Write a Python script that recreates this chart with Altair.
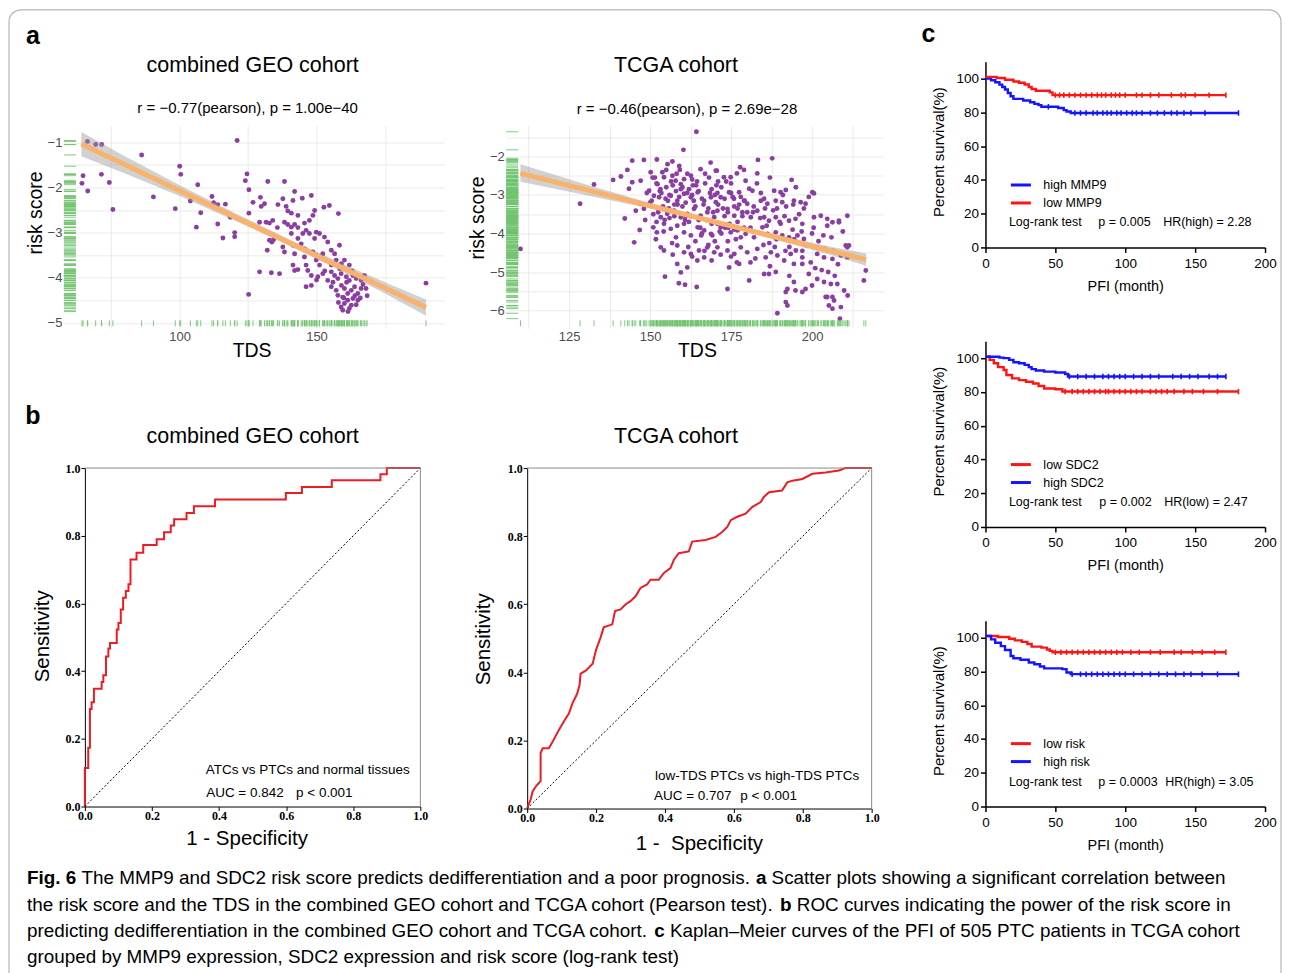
import altair as alt
import pandas as pd

SANS = "Liberation Sans, Arial, Helvetica, sans-serif"
SERIF = "Liberation Serif, Times New Roman, serif"

PURPLE = "#8a3ea2"
GREEN = "#72c46f"
ORANGE = "#f9b26c"
ROC_RED = "#ec1c24"
KM_RED = "#ff1414"
KM_BLUE = "#1414ff"

# ---------------- data: combined GEO scatter ----------------
geo_tds = [66.3, 69.3, 71.5, 64.7, 64.3, 66.4, 71.4, 74.3, 75.6, 86.1,
           90.4, 98.4, 100.0, 100.4, 103.9, 106.6, 107.7, 106.1, 111.8, 112.4,
           113.9, 116.7, 113.9, 115.8, 118.5, 120.1, 120.1, 121.0, 124.0, 124.6,
           125.3, 125.3, 125.2, 132.2, 138.3, 129.5, 131.0, 129.8, 126.8, 135.9,
           137.7, 138.9, 141.4, 142.0, 144.8, 148.1, 140.8, 143.2, 139.5, 149.3,
           148.7, 147.4, 152.7, 154.7, 158.0, 129.2, 131.6, 132.8, 134.0, 135.7,
           138.3, 139.5, 140.8, 142.0, 143.2, 145.6, 146.2, 145.0, 147.4, 149.9,
           151.1, 140.8, 143.2, 149.3, 152.9, 154.1, 144.4, 133.7, 132.8, 134.3,
           137.7, 138.3, 141.4, 142.0, 132.0, 145.6, 148.7, 149.9, 152.3, 155.4,
           156.6, 158.4, 141.4, 145.6, 146.2, 149.9, 151.1, 153.5, 155.4, 157.2,
           159.1, 160.2, 162.0, 129.2, 133.5, 136.5, 142.0, 143.2, 146.8, 148.1,
           150.5, 152.3, 155.4, 156.6, 157.8, 159.0, 160.9, 162.0, 163.3, 164.5,
           166.3, 146.2, 148.1, 154.1, 155.4, 157.2, 159.1, 160.2, 161.4, 162.7,
           163.9, 165.1, 166.3, 157.8, 159.6, 161.4, 163.3, 160.2, 162.7, 159.0,
           162.0, 165.1, 159.6, 168.1, 190.0, 156.0, 158.5, 161.0, 163.0, 164.0,
           166.0, 167.0, 160.0, 158.0, 164.5, 161.5, 167.5, 153.0, 150.0, 168.5]
geo_risk = [-0.98, -1.05, -1.05, -1.74, -1.91, -2.08, -1.71, -1.89, -2.49, -1.28,
            -2.21, -2.47, -1.53, -1.71, -2.30, -1.94, -2.56, -2.88, -2.20, -2.34,
            -2.38, -2.37, -2.81, -3.12, -2.66, -3.00, -3.09, -0.96, -1.85, -1.70,
            -2.05, -2.57, -4.37, -1.87, -1.87, -2.22, -2.36, -2.42, -2.33, -2.38,
            -2.25, -2.42, -2.29, -2.09, -2.24, -2.18, -2.57, -2.62, -2.52, -2.51,
            -2.62, -2.73, -2.44, -2.40, -2.58, -2.77, -2.77, -2.79, -2.73, -2.89,
            -2.77, -2.82, -2.88, -2.82, -2.89, -2.79, -2.95, -3.02, -3.02, -2.99,
            -3.02, -3.02, -3.13, -3.13, -3.10, -3.21, -3.25, -3.21, -3.17, -3.16,
            -3.32, -3.43, -3.28, -3.47, -3.39, -3.36, -3.43, -3.50, -3.47, -3.39,
            -3.47, -3.28, -3.72, -3.54, -3.72, -3.61, -3.72, -3.61, -3.72, -3.61,
            -3.69, -3.61, -3.72, -3.87, -3.89, -3.91, -3.84, -3.82, -3.84, -3.95,
            -3.98, -3.91, -3.87, -3.95, -4.02, -3.91, -3.98, -4.06, -3.95, -4.02,
            -4.06, -4.20, -4.17, -4.06, -4.20, -4.28, -4.17, -4.24, -4.35, -4.28,
            -4.20, -4.35, -4.24, -4.39, -4.43, -4.50, -4.46, -4.57, -4.61, -4.65,
            -4.68, -4.50, -4.72, -4.24, -4.12, -4.10, -3.80, -4.10, -3.85, -4.40,
            -4.45, -4.15, -4.45, -4.55, -4.60, -4.75, -3.95, -3.85, -4.05, -4.40]
geo_fit_tds = [64.1, 190.0]
geo_fit_risk = [-1.04, -4.66]
geo_ci_tds = [64.1, 80.0, 100.0, 120.0, 140.0, 160.0, 175.0, 190.0]
geo_ci_low = [-1.31, -1.69, -2.19, -2.73, -3.29, -3.88, -4.35, -4.84]
geo_ci_high = [-0.77, -1.31, -1.95, -2.56, -3.15, -3.70, -4.10, -4.48]

# ---------------- data: TCGA scatter ----------------
tcga_tds = [164.3, 160.3, 128.4, 132.7, 138.6, 141.0, 143.0, 142.2, 144.5, 148.1,
            152.1, 155.4, 156.9, 144.5, 147.1, 143.5, 145.6, 148.1, 147.1, 146.8,
            145.1, 150.2, 152.3, 149.7, 151.2, 153.8, 154.3, 156.9, 157.9, 159.5,
            160.5, 162.6, 165.6, 168.7, 170.3, 152.8, 154.8, 156.4, 158.4, 160.5,
            162.6, 164.7, 166.7, 168.8, 170.3, 153.3, 155.3, 157.4, 159.5, 161.5,
            163.6, 165.6, 167.7, 169.8, 154.3, 156.4, 158.4, 160.5, 162.6, 164.7,
            166.7, 168.8, 170.8, 153.3, 154.3, 158.4, 160.5, 162.6, 165.1, 167.7,
            169.8, 158.4, 159.5, 161.5, 164.6, 166.7, 154.6, 158.9, 160.8, 164.4,
            151.0, 152.1, 153.3, 187.7, 183.3, 183.1, 177.8, 176.8, 174.9, 172.8,
            170.6, 179.5, 193.7, 180.6, 181.6, 185.2, 188.3, 190.3, 191.9, 200.1,
            200.6, 171.8, 174.4, 175.9, 177.5, 179.0, 180.0, 184.2, 186.2, 188.8,
            190.8, 194.4, 196.5, 198.0, 170.8, 173.9, 176.0, 178.5, 181.1, 183.1,
            185.2, 186.7, 188.8, 190.3, 192.9, 194.9, 197.0, 200.6, 202.7, 204.7,
            206.3, 208.3, 210.9, 171.8, 174.9, 177.0, 179.5, 182.1, 184.7, 186.2,
            188.8, 190.8, 192.9, 195.5, 197.5, 170.8, 173.9, 176.0, 178.0, 180.0,
            183.1, 185.7, 187.3, 189.3, 191.4, 193.4, 195.0, 197.0, 199.6, 201.6,
            203.7, 206.3, 208.9, 210.9, 174.4, 177.5, 180.6, 185.2, 186.7, 188.8,
            194.4, 197.0, 173.9, 191.9, 192.4, 194.4, 194.9, 197.0, 198.0, 200.0,
            201.6, 203.7, 205.8, 207.8, 191.9, 192.4, 204.7, 205.2, 206.8, 206.3,
            209.9, 211.0, 189.3, 208.6, 216.6, 216.0, 204.7, 208.3, 210.4, 211.4,
            210.9, 208.9, 204.2, 206.3, 110.0, 152.0, 153.0, 155.0, 156.0, 157.0,
            158.0, 159.0, 160.0, 161.0, 162.0, 163.0, 164.0, 165.0, 166.0, 167.0,
            168.0, 169.0, 170.0, 171.0, 172.0, 173.0, 174.0, 175.0, 176.0, 177.0,
            178.0, 179.0, 180.0, 150.0, 151.0, 152.0, 154.0, 156.0, 158.0, 160.0,
            162.0, 164.0, 166.0, 168.0, 170.0, 172.0, 174.0, 176.0, 178.0, 180.0,
            182.0, 184.0, 186.0, 188.0, 190.0, 192.0, 194.0, 196.0, 198.0, 200.0,
            202.0, 204.0, 206.0, 208.0, 155.0, 159.0, 163.0, 167.0, 171.0, 175.0,
            179.0, 183.0, 187.0, 191.0, 195.0, 199.0, 161.0, 165.0, 169.0, 173.0,
            177.0, 181.0, 185.0, 189.0, 193.0, 197.0, 201.0, 205.0, 157.0, 163.0,
            169.0, 175.0, 181.0, 187.0, 193.0, 199.0, 203.0, 207.0, 157.5, 161.5,
            149.0, 150.5, 151.5, 152.5, 153.5, 154.5, 155.5, 156.5, 157.5, 158.5,
            159.5, 160.5, 161.5, 162.5, 163.5, 164.5, 165.5, 166.5, 167.5, 168.5,
            169.5, 170.5, 171.5, 172.5, 173.5, 174.5, 175.5, 176.5, 177.5, 178.5,
            148.5, 151.8, 154.2, 156.8, 159.2, 161.8, 164.2, 166.8, 169.2, 171.8,
            174.2, 176.8, 179.2, 181.8, 184.2, 186.8, 189.2, 191.8, 194.2, 196.8,
            182.5, 185.5, 188.5, 191.5, 194.5, 197.5, 200.5, 203.5, 206.5, 209.5,
            150.8, 153.2, 155.8, 158.2, 160.8, 163.2, 165.8, 168.2, 170.8, 173.2]
tcga_risk = [-1.36, -1.83, -3.23, -2.73, -2.61, -2.52, -2.35, -3.61, -2.11, -2.09,
             -2.08, -2.20, -2.13, -2.67, -2.63, -2.84, -3.41, -3.36, -3.23, -3.91,
             -4.23, -2.41, -2.72, -2.89, -3.02, -2.41, -2.54, -2.50, -2.63, -2.72,
             -2.59, -2.50, -2.33, -2.16, -2.37, -3.06, -3.10, -3.02, -3.15, -2.97,
             -3.06, -2.93, -3.15, -3.06, -3.19, -3.36, -3.49, -3.41, -3.58, -3.49,
             -3.36, -3.54, -3.45, -3.58, -3.75, -3.88, -3.80, -3.97, -4.05, -3.84,
             -3.92, -4.01, -3.75, -4.36, -4.44, -4.31, -4.49, -4.53, -4.44, -4.36,
             -4.49, -4.79, -5.01, -4.88, -4.70, -4.62, -5.12, -5.29, -5.33, -5.39,
             -3.84, -3.97, -3.58, -2.05, -2.09, -2.44, -2.28, -2.44, -2.54, -2.54,
             -2.37, -2.63, -2.61, -2.84, -2.89, -3.10, -2.89, -2.93, -2.87, -2.93,
             -2.96, -3.06, -2.93, -3.10, -2.93, -3.15, -3.23, -3.15, -3.23, -3.15,
             -3.19, -3.15, -3.19, -3.23, -3.41, -3.36, -3.54, -3.45, -3.58, -3.41,
             -3.58, -3.67, -3.58, -3.75, -3.67, -3.62, -3.75, -3.58, -3.54, -3.62,
             -3.71, -3.67, -3.54, -3.84, -3.97, -3.92, -4.01, -4.10, -3.84, -4.01,
             -3.97, -4.05, -4.10, -4.05, -4.14, -4.36, -4.44, -4.53, -4.36, -4.49,
             -4.40, -4.62, -4.49, -4.57, -4.70, -4.53, -4.44, -4.62, -4.75, -4.53,
             -4.62, -4.66, -4.57, -4.36, -4.88, -4.79, -5.22, -5.05, -5.05, -5.00,
             -4.79, -4.79, -5.44, -5.52, -5.44, -5.26, -5.48, -5.52, -5.44, -5.35,
             -5.18, -5.26, -5.31, -5.31, -5.78, -5.87, -5.65, -5.87, -5.74, -5.95,
             -5.48, -5.61, -6.07, -6.21, -4.96, -5.22, -3.80, -3.71, -4.31, -4.31,
             -4.62, -5.91, -5.65, -5.65, -4.40, -2.70, -2.90, -2.80, -3.00, -2.75,
             -2.90, -3.05, -2.80, -3.20, -2.85, -3.00, -3.30, -2.90, -3.10, -2.70,
             -3.35, -2.85, -3.00, -3.25, -2.80, -3.10, -3.45, -2.70, -3.30, -3.70,
             -3.05, -3.85, -3.45, -3.20, -3.50, -3.70, -3.30, -3.60, -4.10, -3.30,
             -3.70, -4.20, -4.00, -4.30, -4.20, -4.00, -4.20, -3.90, -4.10, -3.90,
             -3.30, -3.60, -3.80, -3.40, -3.70, -3.30, -3.90, -3.50, -4.30, -4.00,
             -4.20, -4.40, -4.10, -4.80, -2.35, -2.25, -2.60, -2.45, -2.65, -2.95,
             -2.35, -2.70, -2.55, -3.00, -2.80, -3.05, -3.55, -3.65, -3.75, -3.55,
             -3.35, -3.85, -4.30, -4.15, -4.35, -4.45, -4.90, -5.00, -4.55, -4.60,
             -4.70, -4.60, -4.75, -4.85, -5.10, -5.05, -4.95, -5.10, -3.25, -2.95,
             -2.95, -3.15, -2.55, -3.45, -2.95, -3.65, -3.15, -2.65, -3.55, -3.25,
             -2.85, -3.75, -2.45, -3.55, -3.15, -2.65, -3.85, -3.25, -3.65, -2.95,
             -3.45, -2.75, -3.95, -3.35, -2.65, -3.75, -3.05, -4.15, -3.25, -3.55,
             -3.65, -4.15, -3.95, -4.25, -2.35, -4.35, -2.75, -4.45, -4.05, -4.55,
             -3.85, -4.75, -3.15, -3.45, -2.95, -4.25, -3.35, -4.45, -3.25, -3.95,
             -4.65, -3.35, -4.35, -3.55, -4.15, -3.35, -3.85, -4.05, -4.45, -3.95,
             -2.55, -2.85, -3.35, -2.45, -3.65, -2.75, -4.05, -2.55, -2.95, -3.85]
tcga_fit_tds = [110.0, 216.7]
tcga_fit_risk = [-2.44, -4.68]
tcga_ci_tds = [110.0, 130.0, 150.0, 170.0, 190.0, 205.0, 216.7]
tcga_ci_low = [-2.66, -3.00, -3.35, -3.75, -4.19, -4.54, -4.84]
tcga_ci_high = [-2.20, -2.72, -3.21, -3.65, -4.05, -4.33, -4.52]

# ---------------- data: ROC curves ----------------
geo_roc_fpr = [0.0, 0.0, 0.010, 0.015, 0.020, 0.027, 0.050, 0.055, 0.063, 0.070,
               0.075, 0.095, 0.100, 0.107, 0.114, 0.122, 0.130, 0.136, 0.154, 0.174,
               0.214, 0.236, 0.256, 0.266, 0.303, 0.325, 0.388, 0.599, 0.647, 0.736,
               0.881, 0.900, 1.0]
geo_roc_tpr = [0.0, 0.114, 0.174, 0.288, 0.308, 0.348, 0.368, 0.388, 0.443, 0.467,
               0.483, 0.523, 0.542, 0.582, 0.617, 0.637, 0.657, 0.730, 0.750, 0.773,
               0.790, 0.810, 0.830, 0.849, 0.867, 0.887, 0.907, 0.926, 0.944, 0.964,
               0.982, 1.0, 1.0]
tcga_roc_fpr = [0.0, 0.010, 0.016, 0.026, 0.039, 0.039, 0.045, 0.063, 0.077, 0.092,
                0.109, 0.121, 0.131, 0.145, 0.152, 0.155, 0.170, 0.190, 0.200, 0.213,
                0.222, 0.247, 0.255, 0.271, 0.286, 0.300, 0.315, 0.329, 0.348, 0.358,
                0.382, 0.397, 0.416, 0.426, 0.440, 0.469, 0.479, 0.518, 0.547, 0.566,
                0.581, 0.591, 0.610, 0.634, 0.654, 0.678, 0.687, 0.702, 0.740, 0.755,
                0.770, 0.799, 0.828, 0.866, 0.905, 0.924, 1.0]
tcga_roc_tpr = [0.0, 0.027, 0.051, 0.066, 0.081, 0.163, 0.177, 0.177, 0.202, 0.231,
                0.260, 0.279, 0.308, 0.337, 0.362, 0.396, 0.405, 0.425, 0.466, 0.502,
                0.532, 0.541, 0.580, 0.585, 0.600, 0.609, 0.624, 0.648, 0.658, 0.672,
                0.672, 0.692, 0.706, 0.731, 0.750, 0.755, 0.784, 0.789, 0.798, 0.812,
                0.827, 0.847, 0.857, 0.866, 0.886, 0.900, 0.915, 0.929, 0.934, 0.958,
                0.963, 0.968, 0.983, 0.987, 0.993, 1.0, 1.0]
chance_line = [0.0, 1.0]

# ---------------- data: Kaplan-Meier (PFI) ----------------
mmp9_high_t = [0, 4, 7, 10, 12, 14, 16, 18, 20, 27, 32, 35, 38, 40, 52, 56, 58, 61, 181]
mmp9_high_s = [100, 99, 97.8, 96.4, 95, 93.5, 91.5, 89.5, 88, 87, 86, 85, 84.3, 83.3, 82.6, 81.3, 80.5, 79.6, 79.6]
mmp9_low_t = [0, 8, 14, 20, 24, 28, 31, 33, 36, 46, 48, 172]
mmp9_low_s = [101, 100.3, 99.3, 98.3, 97.5, 96.5, 95, 93.8, 92.8, 91.8, 90.2, 90.2]
mmp9_high_ct = [45, 64, 68, 72, 77, 80, 84, 87, 90, 94, 97, 101, 105, 108, 112, 118, 123, 128, 133, 137, 142, 147, 157, 181]
mmp9_high_cs = [83.3, 79.6, 79.6, 79.6, 79.6, 79.6, 79.6, 79.6, 79.6, 79.6, 79.6, 79.6, 79.6, 79.6, 79.6, 79.6, 79.6, 79.6, 79.6, 79.6, 79.6, 79.6, 79.6, 79.6]
mmp9_low_ct = [50, 53, 56, 60, 64, 68, 72, 76, 80, 83, 86, 90, 93, 96, 100, 108, 112, 118, 124, 133, 140, 143, 150, 160, 172]
mmp9_low_cs = [90.2, 90.2, 90.2, 90.2, 90.2, 90.2, 90.2, 90.2, 90.2, 90.2, 90.2, 90.2, 90.2, 90.2, 90.2, 90.2, 90.2, 90.2, 90.2, 90.2, 90.2, 90.2, 90.2, 90.2, 90.2]

sdc2_low_t = [0, 3, 6, 9, 13, 15, 19, 24, 29, 34, 38, 42, 50, 55, 181]
sdc2_low_s = [101, 99, 97, 94.7, 93, 90, 88, 87, 86, 85, 83.5, 82, 81.6, 80.2, 80.2]
sdc2_high_t = [0, 10, 13, 17, 20, 24, 28, 31, 33, 36, 42, 50, 57, 59, 172]
sdc2_high_s = [100.8, 100.3, 100, 99, 97.6, 97, 96, 94.7, 93.5, 92.7, 92, 91.5, 90.6, 89.1, 89.1]
sdc2_low_ct = [57, 62, 66, 70, 74, 78, 82, 86, 88, 92, 96, 100, 104, 108, 112, 118, 122, 126, 130, 135, 142, 148, 156, 166, 181]
sdc2_low_cs = [80.2, 80.2, 80.2, 80.2, 80.2, 80.2, 80.2, 80.2, 80.2, 80.2, 80.2, 80.2, 80.2, 80.2, 80.2, 80.2, 80.2, 80.2, 80.2, 80.2, 80.2, 80.2, 80.2, 80.2, 80.2]
sdc2_high_ct = [60, 66, 72, 78, 84, 88, 92, 96, 100, 106, 112, 118, 124, 134, 140, 146, 152, 160, 166, 172]
sdc2_high_cs = [89.1, 89.1, 89.1, 89.1, 89.1, 89.1, 89.1, 89.1, 89.1, 89.1, 89.1, 89.1, 89.1, 89.1, 89.1, 89.1, 89.1, 89.1, 89.1, 89.1]

risk_low_t = [0, 9, 17, 21, 26, 30, 33, 40, 44, 46, 48, 172]
risk_low_s = [101, 100.4, 99.4, 98.4, 97.5, 96.3, 94.7, 94.1, 93, 92.2, 91.4, 91.4]
risk_high_t = [0, 4, 7, 11, 14, 18, 20, 25, 31, 35, 39, 42, 55, 58, 61, 181]
risk_high_s = [101, 99, 97, 95, 92.7, 89.2, 87.8, 86.9, 85.3, 84.3, 82.9, 81.8, 81.4, 79.4, 78.4, 78.4]
risk_low_ct = [50, 54, 58, 62, 66, 70, 74, 78, 82, 86, 90, 94, 98, 104, 110, 118, 125, 135, 140, 148, 155, 164, 172]
risk_low_cs = [91.4, 91.4, 91.4, 91.4, 91.4, 91.4, 91.4, 91.4, 91.4, 91.4, 91.4, 91.4, 91.4, 91.4, 91.4, 91.4, 91.4, 91.4, 91.4, 91.4, 91.4, 91.4, 91.4]
risk_high_ct = [62, 68, 72, 76, 80, 84, 88, 92, 96, 100, 106, 112, 118, 124, 130, 136, 142, 147, 155, 166, 181]
risk_high_cs = [78.4, 78.4, 78.4, 78.4, 78.4, 78.4, 78.4, 78.4, 78.4, 78.4, 78.4, 78.4, 78.4, 78.4, 78.4, 78.4, 78.4, 78.4, 78.4, 78.4, 78.4]

# tick values / labels
geo_x_grid = [75, 100, 125, 150, 175]
geo_y_grid = [-5, -4.5, -4, -3.5, -3, -2.5, -2, -1.5, -1]
tcga_x_grid = [112.5, 125, 137.5, 150, 162.5, 175, 187.5, 200, 212.5]
tcga_y_grid = [-6, -5.5, -5, -4.5, -4, -3.5, -3, -2.5, -2, -1.5]
roc_ticks = [0, 0.2, 0.4, 0.6, 0.8, 1.0]
km_x_ticks = [0, 50, 100, 150, 200]
km_y_ticks = [0, 20, 40, 60, 80, 100]

# ---------------- layout (page pixels) ----------------
SC1_X, SC1_Y, SC1_W, SC1_H = 64, 125, 381, 203
SC2_W, SC2_H = 378, 203
ROC1_W, ROC1_H = 336, 339
ROC2_W, ROC2_H = 345, 341
KM_W, KM_H = 280, 186


def note(text, x, y, size, weight="normal", align="left", font=SANS, color="black"):
    return alt.Chart(pd.DataFrame({"t": [text]})).mark_text(
        align=align, baseline="middle", fontSize=size, fontWeight=weight,
        font=font, color=color
    ).encode(text="t:N", x=alt.value(x), y=alt.value(y))


def scatter_chart(tds, risk, fit_x, fit_y, ci_x, ci_lo, ci_hi, xdom, ydom,
                  xgrid, xmajor, ygrid, w, h, ytx, yty, xtx, extra):
    pts = pd.DataFrame({"TDS": tds[:len(risk)], "risk": risk[:len(tds)]})
    xs = alt.Scale(domain=xdom, nice=False, zero=False)
    ys = alt.Scale(domain=ydom, nice=False, zero=False)
    common = dict(grid=True, gridColor="#e8e8e8", gridWidth=0.9, domain=False, ticks=False,
                  labelFont=SANS, labelFontSize=13, labelColor="#4d4d4d", format=".0f",
                  titleFont=SANS, titleFontSize=19.5, titleFontWeight="normal",
                  titleColor="black")
    xax = alt.Axis(values=xgrid, title="TDS", labelPadding=2, labelFlush=False,
                   labelExpr=f"datum.value % {xmajor} == 0 ? datum.label : ''",
                   titleX=xtx, titleY=13, **common)
    yax = alt.Axis(values=ygrid, title="risk score", labelPadding=2,
                   labelExpr="datum.value % 1 == 0 ? datum.label : ''",
                   titleX=ytx, titleY=yty, **common)
    points = alt.Chart(pts).mark_circle(size=24, color=PURPLE, opacity=1).encode(
        x=alt.X("TDS:Q", scale=xs, axis=xax), y=alt.Y("risk:Q", scale=ys, axis=yax))
    band = alt.Chart(pd.DataFrame({"x": ci_x, "lo": ci_lo, "hi": ci_hi})).mark_area(
        color="#9a9a9a", opacity=0.45).encode(
        x=alt.X("x:Q", scale=xs, axis=xax), y=alt.Y("lo:Q", scale=ys, axis=yax), y2="hi:Q")
    fit = alt.Chart(pd.DataFrame({"x": fit_x, "y": fit_y})).mark_line(
        color=ORANGE, strokeWidth=5).encode(
        x=alt.X("x:Q", scale=xs, axis=xax), y=alt.Y("y:Q", scale=ys, axis=yax))
    rug_y = alt.Chart(pts).mark_rule(color=GREEN, strokeWidth=0.9).encode(
        y=alt.Y("risk:Q", scale=ys, axis=yax), x=alt.value(0), x2=alt.value(12))
    rug_x = alt.Chart(pts).mark_rule(color=GREEN, strokeWidth=0.9).encode(
        x=alt.X("TDS:Q", scale=xs, axis=xax), y=alt.value(h - 8), y2=alt.value(h - 2))
    return alt.layer(points, band, fit, rug_y, rug_x, *extra).properties(width=w, height=h)


def roc_chart(fpr, tpr, interp, w, h, ytx, yty, xtitle, xtx, xty, notes):
    df = pd.DataFrame({"fpr": fpr[:len(tpr)], "tpr": tpr[:len(fpr)]})
    df["i"] = range(len(df))
    sc = alt.Scale(domain=[0, 1], nice=False, zero=False)
    common = dict(values=roc_ticks, format=".1f", grid=False,
                  labelFont=SERIF, labelFontWeight="bold", labelFontSize=12, labelColor="black",
                  tickSize=4, tickColor="black", tickWidth=1, domainColor="black", domainWidth=1,
                  titleFont=SANS, titleFontSize=20.5, titleFontWeight="normal", titleColor="black")
    xax = alt.Axis(title=xtitle, labelPadding=0, labelFlush=False, titleX=xtx, titleY=xty, **common)
    yax = alt.Axis(title="Sensitivity", labelPadding=1, titleX=ytx, titleY=yty, **common)
    curve = alt.Chart(df).mark_line(color=ROC_RED, strokeWidth=2, interpolate=interp).encode(
        x=alt.X("fpr:Q", scale=sc, axis=xax), y=alt.Y("tpr:Q", scale=sc, axis=yax), order="i:Q")
    diag = alt.Chart(pd.DataFrame({"d": chance_line})).mark_line(
        color="black", strokeWidth=1, strokeDash=[2, 2]).encode(
        x=alt.X("d:Q", scale=sc, axis=xax), y=alt.Y("d:Q", scale=sc, axis=yax))
    one = pd.DataFrame({"v": [0]})
    top = alt.Chart(one).mark_rule(color="#8a8a8a", strokeWidth=1).encode(
        x=alt.value(0), x2=alt.value(w), y=alt.value(0))
    right = alt.Chart(one).mark_rule(color="#8a8a8a", strokeWidth=1).encode(
        x=alt.value(w), y=alt.value(0), y2=alt.value(h))
    return alt.layer(curve, diag, top, right, *notes).properties(width=w, height=h)


def km_chart(groups, notes, legend_y):
    names = [g[0] for g in groups]
    colors = [g[1] for g in groups]
    lt, ls, lg, li, ct, cs, cg = [], [], [], [], [], [], []
    for name, color, t, s, c_t, c_s in groups:
        for k, (a, b) in enumerate(zip(t, s)):
            lt.append(a); ls.append(b); lg.append(name); li.append(k)
        for a, b in zip(c_t, c_s):
            ct.append(a); cs.append(b); cg.append(name)
    df = pd.DataFrame({"t": lt, "s": ls, "g": lg, "i": li})
    cdf = pd.DataFrame({"t": ct, "s": cs, "g": cg})
    cscale = alt.Scale(domain=names, range=colors)
    xs = alt.Scale(domain=[0, 200], nice=False, zero=False)
    ys = alt.Scale(domain=[0, 110], nice=False, zero=False)
    common = dict(grid=False, labelFont=SANS, labelFontSize=13.5, labelColor="black",
                  tickSize=5, tickWidth=1.5, tickColor="black", domainColor="black", domainWidth=1.5,
                  titleFont=SANS, titleFontWeight="normal", titleColor="black")
    xax = alt.Axis(values=km_x_ticks, title="PFI (month)", labelPadding=4, labelFlush=False,
                   titleFontSize=14.5, titleY=32, **common)
    yax = alt.Axis(values=km_y_ticks, title="Percent survival(%)", labelPadding=2, titleFontSize=15,
                   titleX=-39, titleY=90, **common)
    lines = alt.Chart(df).mark_line(interpolate="step-after", strokeWidth=2.4).encode(
        x=alt.X("t:Q", scale=xs, axis=xax), y=alt.Y("s:Q", scale=ys, axis=yax),
        color=alt.Color("g:N", scale=cscale, legend=alt.Legend(
            title=None, orient="none", legendX=24, legendY=legend_y, direction="vertical",
            symbolType="stroke", symbolSize=400, symbolStrokeWidth=3,
            labelFont=SANS, labelFontSize=12.5, labelColor="black", labelOffset=11,
            rowPadding=0, padding=0)),
        order="i:Q")
    ticks = alt.Chart(cdf).mark_point(shape="M0,-1L0,1", size=30, strokeWidth=1.6,
                                      filled=False, opacity=1).encode(
        x=alt.X("t:Q", scale=xs, axis=xax), y=alt.Y("s:Q", scale=ys, axis=yax),
        color=alt.Color("g:N", scale=cscale, legend=None))
    return alt.layer(lines, ticks, *notes).resolve_scale(color="independent").properties(
        width=KM_W, height=KM_H)


def spacer(w, h):
    return alt.Chart(pd.DataFrame({"v": [0]})).mark_point(opacity=0).properties(width=w, height=h)


# ---------------- caption (Arial metrics for positioning) ----------------
REG_W = {' ': 278, '.': 278, ',': 278, '(': 333, ')': 333, '-': 333, '–': 556, ':': 278,
         'a': 556, 'b': 556, 'c': 500, 'd': 556, 'e': 556, 'f': 278, 'g': 556, 'h': 556,
         'i': 222, 'j': 222, 'k': 500, 'l': 222, 'm': 833, 'n': 556, 'o': 556, 'p': 556,
         'q': 556, 'r': 333, 's': 500, 't': 278, 'u': 556, 'v': 500, 'w': 722, 'x': 500,
         'y': 500, 'z': 500, 'A': 667, 'B': 667, 'C': 722, 'D': 722, 'E': 667, 'F': 611,
         'G': 778, 'H': 722, 'I': 278, 'J': 500, 'K': 667, 'L': 556, 'M': 833, 'N': 722,
         'O': 778, 'P': 667, 'Q': 778, 'R': 722, 'S': 667, 'T': 611, 'U': 722, 'V': 667,
         'W': 944, 'X': 667, 'Y': 667, 'Z': 611}
BOLD_W = {'F': 611, 'i': 278, 'g': 611, '.': 278, ' ': 278, '6': 556, 'a': 556, 'b': 611, 'c': 556}
CAP_SIZE = 18.9


def tw(s, bold):
    tab = BOLD_W if bold else REG_W
    return sum(tab.get(ch, 556) for ch in s) * CAP_SIZE / 1000.0


caption_lines = [
    [("Fig. 6", True), (" The MMP9 and SDC2 risk score predicts dedifferentiation and a poor prognosis. ", False),
     ("a", True), (" Scatter plots showing a significant correlation between", False)],
    [("the risk score and the TDS in the combined GEO cohort and TCGA cohort (Pearson test). ", False),
     ("b", True), (" ROC curves indicating the power of the risk score in", False)],
    [("predicting dedifferentiation in the combined GEO cohort and TCGA cohort. ", False),
     ("c", True), (" Kaplan–Meier curves of the PFI of 505 PTC patients in TCGA cohort", False)],
    [("grouped by MMP9 expression, SDC2 expression and risk score (log-rank test)", False)],
]
caption_y = [879, 906, 932, 958]

ox, oy = SC1_X, SC1_Y
sc1_notes = []
for line, ly in zip(caption_lines, caption_y):
    cx = 27.0
    for seg, bold in line:
        lead = len(seg) - len(seg.lstrip(" "))
        cx += tw(" " * lead, bold)
        body = seg.strip(" ")
        sc1_notes.append(note(body, cx - ox, ly - oy, CAP_SIZE, "bold" if bold else "normal"))
        cx += tw(body, bold)
        trail = len(seg) - len(seg.rstrip(" "))
        cx += tw(" " * trail, bold)

sc1_notes += [
    note("a", 33 - ox, 35 - oy, 25, "bold", "center"),
    note("b", 33 - ox, 416 - oy, 25, "bold", "center"),
    note("c", 930 - ox, 33 - oy, 25, "bold", "center"),
    note("combined GEO cohort", 253 - ox, 65 - oy, 21.5, align="center"),
    note("r = −0.77(pearson), p = 1.00e−40", 248 - ox, 107 - oy, 15, align="center"),
    note("TCGA cohort", 677 - ox, 65 - oy, 21.5, align="center"),
    note("r = −0.46(pearson), p = 2.69e−28", 688 - ox, 108 - oy, 15, align="center"),
    note("combined GEO cohort", 253 - ox, 437 - oy, 21.5, align="center"),
    note("TCGA cohort", 677 - ox, 437 - oy, 21.5, align="center"),
]
border = alt.Chart(pd.DataFrame({"v": [0]})).mark_rect(
    fill="white", fillOpacity=0, stroke="#b5b5b5", strokeWidth=1.2, cornerRadius=12).encode(
    x=alt.value(9 - ox), x2=alt.value(1283 - ox), y=alt.value(9 - oy), y2=alt.value(1000 - oy))

sc1 = scatter_chart(geo_tds, geo_risk, geo_fit_tds, geo_fit_risk, geo_ci_tds, geo_ci_low, geo_ci_high,
                    [57.7, 196.7], [-5.12, -0.63], geo_x_grid, 50, geo_y_grid,
                    SC1_W, SC1_H, -18, 87, 188, [border] + sc1_notes)
sc2 = scatter_chart(tcga_tds, tcga_risk, tcga_fit_tds, tcga_fit_risk, tcga_ci_tds, tcga_ci_low, tcga_ci_high,
                    [105.6, 222.1], [-6.46, -1.2], tcga_x_grid, 25, tcga_y_grid,
                    SC2_W, SC2_H, -18.5, 92, 191, [])

roc1 = roc_chart(geo_roc_fpr, geo_roc_tpr, "step-after", ROC1_W, ROC1_H, -32, 168,
                 "1 - Specificity", 162, 22,
                 [note("ATCs vs PTCs and normal tissues", 121, 302, 13.5),
                  note("AUC = 0.842", 121.5, 325, 13.5),
                  note("p < 0.001", 211.5, 325, 13.5)])
roc2 = roc_chart(tcga_roc_fpr, tcga_roc_tpr, "linear", ROC2_W, ROC2_H, -34, 171,
                 "1 -\u00a0 Specificity", 172, 25,
                 [note("low-TDS PTCs vs high-TDS PTCs", 128, 308, 13.5),
                  note("AUC = 0.707", 127, 328, 13.5),
                  note("p < 0.001", 213.5, 328, 13.5)])

km1 = km_chart([("high MMP9", KM_BLUE, mmp9_high_t, mmp9_high_s, mmp9_high_ct, mmp9_high_cs),
                ("low MMP9", KM_RED, mmp9_low_t, mmp9_low_s, mmp9_low_ct, mmp9_low_cs)],
               [note("Log-rank test", 23.5, 161, 12.5), note("p = 0.005", 113, 161, 12.5),
                note("HR(high) = 2.28", 178, 161, 12.5)], 112)
km2 = km_chart([("low SDC2", KM_RED, sdc2_low_t, sdc2_low_s, sdc2_low_ct, sdc2_low_cs),
                ("high SDC2", KM_BLUE, sdc2_high_t, sdc2_high_s, sdc2_high_ct, sdc2_high_cs)],
               [note("Log-rank test", 23.5, 161, 12.5), note("p = 0.002", 114, 161, 12.5),
                note("HR(low) = 2.47", 179, 161, 12.5)], 112)
km3 = km_chart([("low risk", KM_RED, risk_low_t, risk_low_s, risk_low_ct, risk_low_cs),
                ("high risk", KM_BLUE, risk_high_t, risk_high_s, risk_high_ct, risk_high_cs)],
               [note("Log-rank test", 23.5, 161.5, 12.5), note("p = 0.0003", 113, 161.5, 12.5),
                note("HR(high) = 3.05", 180, 161.5, 12.5)], 111.5)

# flush layout: nested concat groups count as zero-size, leaves by their plot size
row1 = alt.hconcat(sc1, sc2, spacing=62, bounds="flush")
roc_pair = alt.hconcat(roc1, roc2, spacing=107, bounds="flush")
row2 = alt.hconcat(spacer(11, 10), roc_pair, spacing=10, bounds="flush")
ab = alt.vconcat(row1, row2, spacing=343, bounds="flush")
ab_col = alt.vconcat(spacer(10, 54), ab, spacing=10, bounds="flush")
km_col = alt.vconcat(km1, km2, km3, spacing=94, bounds="flush")
chart = alt.hconcat(ab_col, km_col, spacing=923, bounds="flush").properties(
    padding=0, background="white"
).configure_view(stroke=None)

chart.save("out.html", embed_options={"renderer": "svg", "actions": False})
